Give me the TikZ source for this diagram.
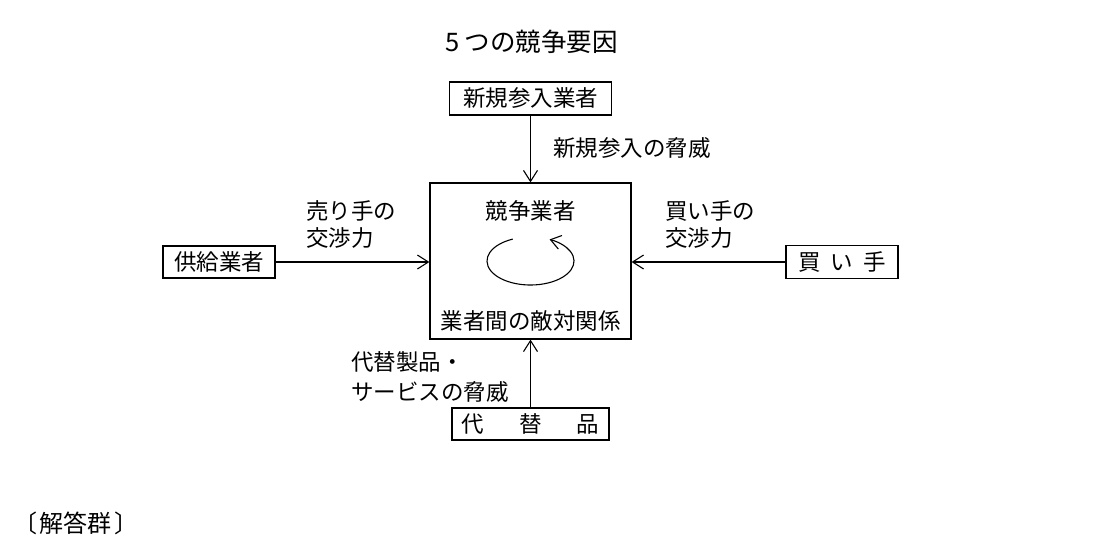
\documentclass[tikz,border=0pt]{standalone}
\usepackage{fontspec}
\newfontfamily\jp{Noto Sans CJK JP}
\usetikzlibrary{arrows.meta}
\tikzset{
  box/.style={draw, line width=1.2pt, inner sep=0pt, font=\jp\fontsize{22.5}{27}\selectfont},
  lbl/.style={inner sep=0pt, align=left, font=\jp\fontsize{22.5}{27}\selectfont},
  conn/.style={line width=1.1pt, -{Straight Barb[length=11pt,width=14pt,line width=1.1pt]}},
}
\begin{document}
\begin{tikzpicture}[x=1pt,y=-1pt]
\useasboundingbox (0,0) rectangle (1100,550);
\node[lbl, font=\jp\fontsize{25.5}{28}\selectfont] (title) at (531.5,42) {5 つの競争要因};
\node[box, minimum width=162pt, minimum height=33pt] (entrant) at (530.5,98.5) {新規参入業者};
\node[box, minimum width=201pt, minimum height=156pt] (comp) at (530.5,261) {};
\node[lbl] (compname) at (530.5,211) {競争業者};
\node[lbl] (rivalry) at (530.5,321) {業者間の敵対関係};
\coordinate (ec) at (530.5,261);
\draw[line width=1.1pt, -{Straight Barb[length=10pt,width=14pt,line width=1.1pt]}] (ec) ++(114:43.5pt and 24pt) arc[start angle=114, end angle=424, x radius=43.5pt, y radius=24pt];
\node[box, minimum width=112pt, minimum height=32pt] (supplier) at (219,262) {供給業者};
\node[box, minimum width=112pt, minimum height=33pt] (buyer) at (842,262) {買\hspace{10pt}い\hspace{10pt}手};
\node[box, minimum width=157pt, minimum height=32pt] (subst) at (530.5,424) {代\hspace{35pt}替\hspace{35pt}品};
\draw[conn] (entrant.south) -- (comp.north);
\draw[conn] (supplier.east) -- (supplier.east -| comp.west);
\draw[conn] (buyer.west) -- (buyer.west -| comp.east);
\draw[conn] (subst.north) -- (comp.south);
\node[lbl, anchor=west] (l1) at (553,148) {新規参入の脅威};
\node[lbl, anchor=west] (l2) at (306,224.5) {売り手の\\交渉力};
\node[lbl, anchor=west] (l3) at (665,224.5) {買い手の\\交渉力};
\node[lbl, anchor=west, font=\jp\fontsize{22.5}{30}\selectfont] (l4) at (351,377) {代替製品・\\サービスの脅威};
\node[lbl, anchor=west, font=\jp\fontsize{24}{28}\selectfont] (ans) at (13,523) {〔\hspace{2pt}解答群\hspace{3pt}〕};
\end{tikzpicture}
\end{document}
